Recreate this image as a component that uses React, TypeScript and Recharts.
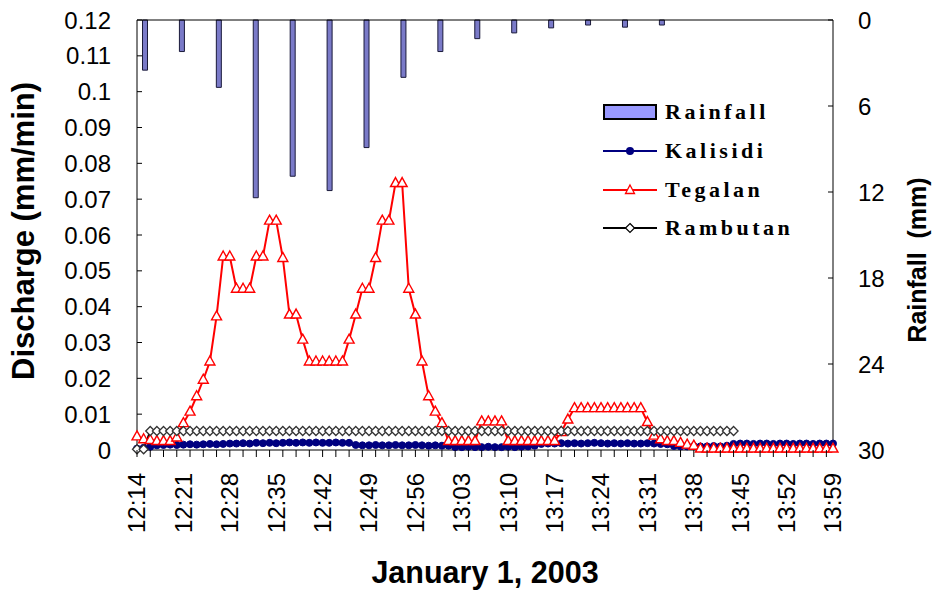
import React from "react"
import { ComposedChart, BarChart, Bar, Line, XAxis, YAxis, ReferenceLine } from "recharts"

// one reading per minute, 12:14 -> 13:59
const times = Array.from({ length: 106 }, (_, i) => {
  const m = 14 + i
  return `${12 + Math.floor(m / 60)}:${String(m % 60).padStart(2, "0")}`
})

const kalisidi = [
  0.0004, 0.0006, 0.0009,
  0.0013, 0.0014, 0.0015, 0.0014, 0.0015, 0.0016, 0.0015, 0.0016, 0.0017, 0.0016, 0.0017, 0.0018,
  0.0018, 0.0019, 0.0018, 0.002, 0.0019, 0.002, 0.0019, 0.002, 0.0021, 0.002, 0.0021, 0.002, 0.0021, 0.002, 0.002, 0.0021, 0.002, 0.002,
  0.0014, 0.0013, 0.0013, 0.0014, 0.0013, 0.0013, 0.0014, 0.0013, 0.0013, 0.0014, 0.0013, 0.0012, 0.0013, 0.0012, 0.0012,
  0.0008, 0.0008, 0.0009, 0.0008, 0.0008, 0.0009, 0.0008, 0.0008, 0.0009, 0.0008, 0.0009, 0.001, 0.0012,
  0.0017, 0.0018, 0.0018, 0.0019, 0.0018, 0.0019, 0.0018, 0.0019, 0.002, 0.0019, 0.0018, 0.0019, 0.0018, 0.0019, 0.0018, 0.0018, 0.0019, 0.0018, 0.0017, 0.0016,
  0.0011, 0.001, 0.001, 0.0011, 0.001, 0.001, 0.0011, 0.001, 0.0012,
  0.0017, 0.0018, 0.0018, 0.0017, 0.0018, 0.0018, 0.0017, 0.0018, 0.0018, 0.0017, 0.0018, 0.0018, 0.0017, 0.0018, 0.0018, 0.0018,
]

const tegalan = [
  0.0038, 0.003, 0.0028, 0.0025, 0.0025, 0.0025, 0.0035,
  0.0075, 0.0107, 0.015, 0.0196, 0.0247, 0.0373,
  0.054, 0.054, 0.045, 0.045, 0.045, 0.054, 0.054, 0.064, 0.064, 0.0536, 0.0378, 0.0378, 0.0308,
  0.0247, 0.0247, 0.0247, 0.0247, 0.0247, 0.0247,
  0.0308, 0.0378, 0.045, 0.045, 0.0536, 0.064, 0.064, 0.0745, 0.0745, 0.045, 0.0378, 0.0247, 0.015, 0.0107, 0.0075,
  0.0025, 0.0025, 0.0025, 0.0025, 0.0025,
  0.008, 0.008, 0.008, 0.008,
  0.0025, 0.0025, 0.0025, 0.0025, 0.0025, 0.0025, 0.0025, 0.0025,
  0.005, 0.0085,
  0.0117, 0.0117, 0.0117, 0.0117, 0.0117, 0.0117, 0.0117, 0.0117, 0.0117, 0.0117, 0.0117,
  0.0078, 0.004, 0.003, 0.0025,
  0.0025, 0.002, 0.0015, 0.0012,
  0.0004, 0.0004, 0.0004, 0.0004, 0.0004, 0.0004, 0.0004, 0.0004, 0.0004, 0.0004, 0.0004,
  0.0004, 0.0004, 0.0004, 0.0004, 0.0004, 0.0004, 0.0004, 0.0004, 0.0004, 0.0004,
]

const rambutan = [
  0.0002, 0.0002,
  0.0053, 0.0053, 0.0053, 0.0053, 0.0053, 0.0053, 0.0053, 0.0053, 0.0053, 0.0053,
  0.0053, 0.0053, 0.0053, 0.0053, 0.0053, 0.0053, 0.0053, 0.0053, 0.0053, 0.0053,
  0.0053, 0.0053, 0.0053, 0.0053, 0.0053, 0.0053, 0.0053, 0.0053, 0.0053, 0.0053,
  0.0053, 0.0053, 0.0053, 0.0053, 0.0053, 0.0053, 0.0053, 0.0053, 0.0053, 0.0053,
  0.0053, 0.0053, 0.0053, 0.0053, 0.0053, 0.0053, 0.0053, 0.0053, 0.0053, 0.0053,
  0.0053, 0.0053, 0.0053, 0.0053, 0.0053, 0.0053, 0.0053, 0.0053, 0.0053, 0.0053,
  0.0053, 0.0053, 0.0053, 0.0053, 0.0053, 0.0053, 0.0053, 0.0053, 0.0053, 0.0053,
  0.0053, 0.0053, 0.0053, 0.0053, 0.0053, 0.0053, 0.0053, 0.0053, 0.0053, 0.0053,
  0.0053, 0.0053, 0.0053, 0.0053, 0.0053, 0.0053, 0.0053, 0.0053, 0.0053,
  null, null, null, null, null, null, null, null, null, null, null, null, null, null, null,
]

// rainfall is logged on its own (coarser) time base, like the secondary axis in the original
const rainSlots = ["1", "2", "3", "4", "5", "6", "7", "8", "9", "10", "11", "12", "13", "14", "15", "16", "17", "18", "19"]
const rainfall = [3.5, 2.2, 4.7, 12.4, 10.9, 11.9, 8.9, 4.0, 2.2, 1.3, 0.9, 0.55, 0.35, 0.5, 0.35, 0, 0, 0, 0]

const dischargeTicks = [0, 0.01, 0.02, 0.03, 0.04, 0.05, 0.06, 0.07, 0.08, 0.09, 0.1, 0.11, 0.12]
const rainTicks = [0, 6, 12, 18, 24, 30]

const W = 935
const H = 590
const sans = '"Liberation Sans", Arial, sans-serif'
const serif = '"Liberation Serif", "Times New Roman", serif'
const tickStyle = { fill: "#000", fontSize: 24, fontFamily: sans }

const chartData = times.map((time, i) => ({
  time,
  kalisidi: kalisidi[i],
  tegalan: tegalan[i],
  rambutan: rambutan[i],
}))

const rainData = rainSlots.map((slot, i) => ({ slot, mm: rainfall[i] }))

function TimeTick(props: any) {
  const { x, y, payload, index } = props
  const i = payload?.index ?? index
  const ty = y + 23
  return (
    <g>
      {i % 2 === 0 && <line x1={x} y1={y} x2={x} y2={y + 7} stroke="#000" />}
      {i % 7 === 0 && (
        <text
          x={x}
          y={ty}
          dy="0.35em"
          transform={`rotate(-90, ${x}, ${ty})`}
          textAnchor="end"
          fill="#000"
          fontSize={24}
          fontFamily={sans}
        >
          {payload.value}
        </text>
      )}
    </g>
  )
}

function triangleDot(p: any) {
  if (p.cx == null || p.cy == null) return <g key={`t-${p.index}`} />
  const { cx, cy } = p
  return (
    <path
      key={`t-${p.index}`}
      d={`M${cx},${cy - 5.5}L${cx + 5},${cy + 3.5}L${cx - 5},${cy + 3.5}Z`}
      fill="#fff"
      stroke="#ff0000"
      strokeWidth={1.4}
    />
  )
}

function diamondDot(p: any) {
  if (p.cx == null || p.cy == null) return <g key={`d-${p.index}`} />
  const { cx, cy } = p
  return (
    <path
      key={`d-${p.index}`}
      d={`M${cx},${cy - 4.5}L${cx + 4.5},${cy}L${cx},${cy + 4.5}L${cx - 4.5},${cy}Z`}
      fill="#fff"
      stroke="#333"
      strokeWidth={1.3}
    />
  )
}

function Swatch({ kind }: { kind: string }) {
  return (
    <svg width={54} height={20} style={{ display: "block" }}>
      {kind === "rain" && <rect x={1} y={3} width={52} height={14} fill="#9999ff" stroke="#000" strokeWidth={2} />}
      {kind === "kal" && (
        <>
          <line x1={0} y1={10} x2={54} y2={10} stroke="#000080" strokeWidth={2} />
          <circle cx={27} cy={10} r={4} fill="#000080" />
        </>
      )}
      {kind === "teg" && (
        <>
          <line x1={0} y1={10} x2={54} y2={10} stroke="#ff0000" strokeWidth={2} />
          <path d="M27,5L31.5,13.5L22.5,13.5Z" fill="#fff" stroke="#ff0000" strokeWidth={1.3} />
        </>
      )}
      {kind === "ram" && (
        <>
          <line x1={0} y1={10} x2={54} y2={10} stroke="#000" strokeWidth={2} />
          <path d="M27,5.5L31.5,10L27,14.5L22.5,10Z" fill="#fff" stroke="#000" strokeWidth={1.2} />
        </>
      )}
    </svg>
  )
}

const legendItems = [
  { kind: "rain", label: "Rainfall" },
  { kind: "kal", label: "Kalisidi" },
  { kind: "teg", label: "Tegalan" },
  { kind: "ram", label: "Rambutan" },
]

export default function App() {
  return (
    <>
      <style>{"body{margin:0}"}</style>
      <div style={{ position: "relative", width: W, height: H, background: "#fff" }}>
        {/* rainfall bars hang from the top on their own category axis */}
        <div style={{ position: "absolute", left: 0, top: 0 }}>
          <BarChart width={W} height={H} data={rainData} margin={{ top: 20, right: 107, bottom: 140, left: 126.5 }}>
            <XAxis dataKey="slot" hide />
            <YAxis hide domain={[0, 30]} reversed />
            <Bar dataKey="mm" barSize={5} fill="#7a7ac8" stroke="#1a1a3a" strokeWidth={1} isAnimationActive={false} />
          </BarChart>
        </div>

        <div style={{ position: "absolute", left: 0, top: 0 }}>
          <ComposedChart width={W} height={H} data={chartData} margin={{ top: 20, right: 0, bottom: 0, left: 0 }}>
            <XAxis
              dataKey="time"
              interval={0}
              height={140}
              tickLine={false}
              tickSize={0}
              tickMargin={0}
              tick={<TimeTick />}
              axisLine={{ stroke: "#000" }}
              label={{
                value: "January 1, 2003",
                position: "insideBottom",
                offset: 7,
                style: { fill: "#000", fontSize: 30.5, fontWeight: "bold", fontFamily: sans },
              }}
            />
            <YAxis
              yAxisId="q"
              width={137}
              domain={[0, 0.12]}
              ticks={dischargeTicks}
              tickFormatter={(v) => String(Number(v.toFixed(2)))}
              tick={tickStyle}
              tickSize={-5}
              tickMargin={31}
              axisLine={{ stroke: "#000" }}
              tickLine={{ stroke: "#000" }}
              label={{
                content: ({ viewBox }: any) => {
                  const cx = viewBox.x + 23
                  const cy = viewBox.y + viewBox.height / 2 - 4
                  return (
                    <text
                      x={cx}
                      y={cy}
                      transform={`rotate(-90, ${cx}, ${cy})`}
                      textAnchor="middle"
                      dominantBaseline="central"
                      fill="#000"
                      fontSize={31}
                      fontWeight="bold"
                      fontFamily={sans}
                    >
                      Discharge (mm/min)
                    </text>
                  )
                },
              }}
            />
            <YAxis
              yAxisId="rain"
              orientation="right"
              width={102}
              domain={[0, 30]}
              reversed
              allowDataOverflow
              ticks={rainTicks}
              tick={tickStyle}
              tickSize={-5}
              tickMargin={30}
              axisLine={{ stroke: "#000" }}
              tickLine={{ stroke: "#000" }}
              label={{
                content: ({ viewBox }: any) => {
                  const cx = viewBox.x + 84
                  const cy = viewBox.y + 240
                  return (
                    <text
                      x={cx}
                      y={cy}
                      transform={`rotate(-90, ${cx}, ${cy})`}
                      textAnchor="middle"
                      dominantBaseline="central"
                      fill="#000"
                      fontSize={25}
                      fontWeight="bold"
                      fontFamily={sans}
                      style={{ whiteSpace: "pre" }}
                    >
                      {"Rainfall  (mm)"}
                    </text>
                  )
                },
              }}
            />
            <ReferenceLine yAxisId="q" y={0.12} stroke="#000" />
            <Line
              yAxisId="q"
              type="linear"
              dataKey="kalisidi"
              stroke="#000080"
              strokeWidth={2.5}
              dot={{ r: 3.5, fill: "#000080", stroke: "#000080", strokeWidth: 1 }}
              isAnimationActive={false}
            />
            <Line
              yAxisId="q"
              type="linear"
              dataKey="tegalan"
              stroke="#ff0000"
              strokeWidth={2}
              dot={triangleDot}
              isAnimationActive={false}
            />
            <Line
              yAxisId="q"
              type="linear"
              dataKey="rambutan"
              stroke="#000"
              strokeWidth={2}
              dot={diamondDot}
              isAnimationActive={false}
            />
          </ComposedChart>
        </div>

        <div
          style={{
            position: "absolute",
            left: 603,
            top: 93,
            fontFamily: serif,
            fontWeight: "bold",
            fontSize: 22,
            letterSpacing: 3.5,
            color: "#000",
          }}
        >
          {legendItems.map((it) => (
            <div key={it.kind} style={{ display: "flex", alignItems: "center", height: 38.7 }}>
              <Swatch kind={it.kind} />
              <span style={{ marginLeft: 8, lineHeight: 1 }}>{it.label}</span>
            </div>
          ))}
        </div>
      </div>
    </>
  )
}
